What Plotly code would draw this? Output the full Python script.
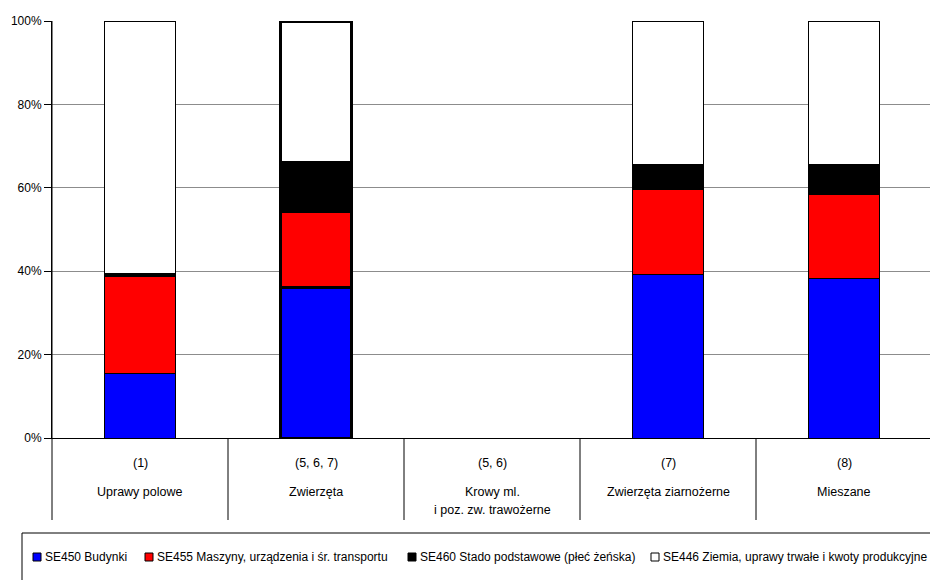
import plotly.graph_objects as go

# ---- data ----
codes = ["(1)", "(5, 6, 7)", "(5, 6)", "(7)", "(8)"]
names = ["Uprawy polowe", "Zwierzęta", "Krowy ml.\ni poz. zw. trawożerne",
         "Zwierzęta ziarnożerne", "Mieszane"]
series_names = ["SE450 Budynki",
                "SE455 Maszyny, urządzenia i śr. transportu",
                "SE460 Stado podstawowe (płeć żeńska)",
                "SE446 Ziemia, uprawy trwałe i kwoty produkcyjne"]
se450 = [15.5, 36.0, 0.0, 39.3, 38.3]
se455 = [23.3, 18.4, 0.0, 20.3, 20.0]
se460 = [0.6, 11.7, 0.0, 6.1, 7.3]
se446 = [60.6, 33.9, 0.0, 34.3, 34.4]
y_ticks = [0, 0.2, 0.4, 0.6, 0.8, 1.0]

# ---- styles ----
colors = ["#0000ff", "#ff0000", "#000000", "#ffffff"]
FONT = "Liberation Sans, Arial, sans-serif"
W, H = 930, 580
L, T, BOTTOM = 52, 21, 438
RIGHT = 930
PW = RIGHT - L
PH = BOTTOM - T
CAT_W = 176


def px_x(px):
    return (px - L) / PW


def px_y(py):
    return (BOTTOM - py) / PH


x = list(range(len(codes)))
totals = [a + b + c + d for a, b, c, d in zip(se450, se455, se460, se446)]


def frac(vals):
    return [v / t if t else 0 for v, t in zip(vals, totals)]


line_w = [1, 3, 1, 1, 1]

fig = go.Figure()
for vals, col, nm in zip([se450, se455, se460, se446], colors, series_names):
    fig.add_trace(go.Bar(
        x=x, y=frac(vals), name=nm, width=0.4,
        marker=dict(color=col, line=dict(color="#000000", width=line_w)),
        showlegend=False,
    ))

shapes = []
shapes.append(dict(type="line", xref="paper", yref="paper",
                   x0=0, x1=0, y0=1, y1=px_y(520),
                   line=dict(color="#000000", width=1)))
for i in range(1, len(codes)):
    xp = L + i * CAT_W
    shapes.append(dict(type="line", xref="paper", yref="paper",
                       x0=px_x(xp), x1=px_x(xp), y0=0, y1=px_y(520),
                       line=dict(color="#000000", width=1)))
shapes.append(dict(type="rect", xref="paper", yref="paper",
                   x0=px_x(22), x1=px_x(960), y0=px_y(533), y1=px_y(600),
                   line=dict(color="#000000", width=1), fillcolor="rgba(0,0,0,0)"))

annotations = []
for i, (c, n) in enumerate(zip(codes, names)):
    annotations.append(dict(x=i, xref="x", y=px_y(463), yref="paper",
                            text=c, showarrow=False, xanchor="center",
                            yanchor="middle",
                            font=dict(family=FONT, size=12.5, color="#000")))
    for j, line in enumerate(n.split("\n")):
        annotations.append(dict(x=i, xref="x", y=px_y(492 + 18 * j), yref="paper",
                                text=line, showarrow=False, xanchor="center",
                                yanchor="middle",
                                font=dict(family=FONT, size=12.5, color="#000")))

leg_marker_x = [33, 145, 408, 651]
leg_y = 557
for mx, col, nm in zip(leg_marker_x, colors, series_names):
    shapes.append(dict(type="rect", xref="paper", yref="paper",
                       x0=px_x(mx), x1=px_x(mx + 8),
                       y0=px_y(leg_y + 4), y1=px_y(leg_y - 4),
                       fillcolor=col, line=dict(color="#000000", width=1)))
    annotations.append(dict(x=px_x(mx + 10), xref="paper", y=px_y(leg_y), yref="paper",
                            text=nm, showarrow=False, xanchor="left", yanchor="middle",
                            font=dict(family=FONT, size=12, color="#000")))

fig.update_layout(
    width=W, height=H,
    margin=dict(l=L, r=W - RIGHT, t=T, b=H - BOTTOM, pad=0, autoexpand=False),
    barmode="stack",
    paper_bgcolor="#ffffff", plot_bgcolor="#ffffff",
    xaxis=dict(range=[-0.5, -0.5 + PW / CAT_W], showticklabels=False,
               showgrid=False, zeroline=False, showline=True,
               linecolor="#000000", linewidth=1, ticks=""),
    yaxis=dict(range=[0, 1], tickvals=y_ticks, tickformat=".0%",
               showgrid=True, gridcolor="#8c8c8c", gridwidth=1,
               zeroline=False, showline=True, linecolor="#000000", linewidth=1,
               ticks="outside", ticklen=7, tickcolor="#000000",
               tickfont=dict(family=FONT, size=12, color="#000")),
    shapes=shapes,
    annotations=annotations,
    showlegend=False,
)

fig.write_html(
    "out.html",
    config={"displayModeBar": False},
    post_script="document.body.style.margin='0';document.body.style.overflow='hidden';",
)
